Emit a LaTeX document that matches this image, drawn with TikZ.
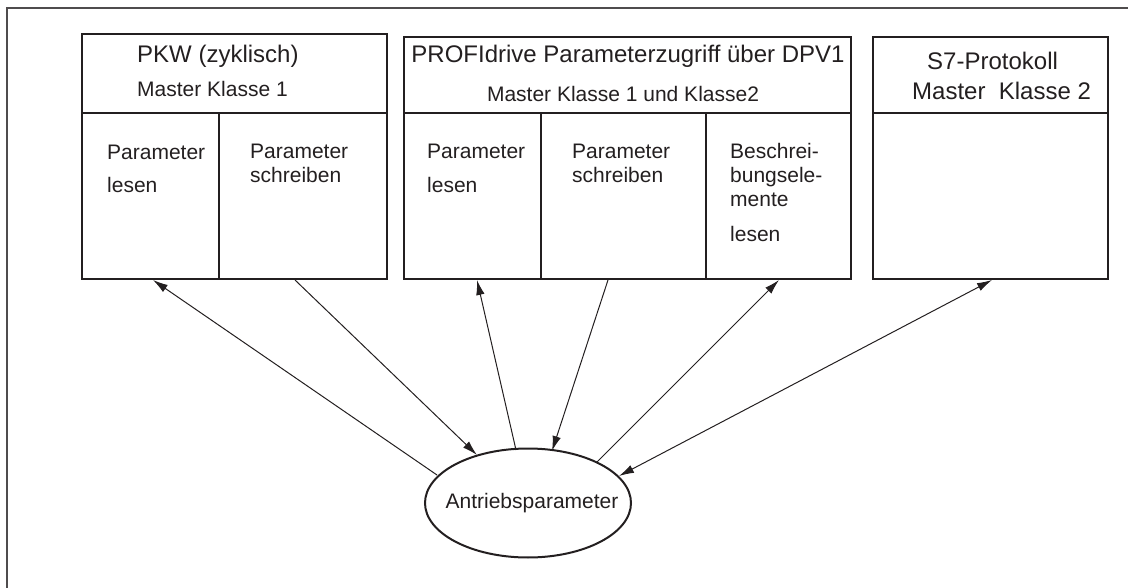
\documentclass[tikz,border=0pt]{standalone}
\usepackage{fontspec}
\setmainfont{Liberation Sans}
\usetikzlibrary{arrows.meta,shapes.geometric}
\definecolor{ink}{HTML}{231F20}
\begin{document}
\begin{tikzpicture}[x=1pt,y=-1pt,
  cell/.style={draw=ink,line width=2pt,anchor=north west,inner sep=0pt,outer sep=0pt},
  big/.style={font=\fontsize{24}{28}\selectfont,text=ink,inner sep=0pt,anchor=base west},
  small/.style={font=\fontsize{21}{25}\selectfont,text=ink,inner sep=0pt,anchor=base west},
  conn/.style={draw=ink,line width=1pt},
  tip/.style={-{Latex[length=15pt,width=8.5pt]}},
  both/.style={{Latex[length=15pt,width=8.5pt]}-{Latex[length=15pt,width=8.5pt]}}]
\useasboundingbox (0,0) rectangle (1128,588);
% frame
\draw[draw=ink!80,line width=1.5pt] (7,588) -- (7,8) -- (1128,8);
% box 1
\node[cell,minimum width=305pt,minimum height=79pt] (h1) at (82,34) {};
\node[cell,minimum width=137pt,minimum height=166pt] (b1a) at (82,113) {};
\node[cell,minimum width=168pt,minimum height=166pt] (b1b) at (219,113) {};
% box 2
\node[cell,minimum width=447pt,minimum height=76pt] (h2) at (404,37) {};
\node[cell,minimum width=137pt,minimum height=166pt] (b2a) at (404,113) {};
\node[cell,minimum width=165pt,minimum height=166pt] (b2b) at (541,113) {};
\node[cell,minimum width=145pt,minimum height=166pt] (b2c) at (706,113) {};
% box 3
\node[cell,minimum width=235pt,minimum height=76pt] (h3) at (873,37) {};
\node[cell,minimum width=235pt,minimum height=166pt] (b3) at (873,113) {};
% texts box 1
\node[big] (t1) at (137,63) {PKW (zyklisch)};
\node[small] (t2) at (137,97) {Master Klasse 1};
\node[small] (t3) at (107,160) {Parameter};
\node[small] (t4) at (107,193) {lesen};
\node[small] (t5) at (250,159) {Parameter};
\node[small] (t6) at (250,183) {schreiben};
% texts box 2
\node[big,anchor=base] (t7) at (628,63) {PROFIdrive Parameterzugriff über DPV1};
\node[small,anchor=base] (t8) at (623,102) {Master Klasse 1 und Klasse2};
\node[small] (t9) at (427,159) {Parameter};
\node[small] (t10) at (427,193) {lesen};
\node[small] (t11) at (572,159) {Parameter};
\node[small] (t12) at (572,183) {schreiben};
\node[small] (t13) at (730,159) {Beschrei-};
\node[small] (t14) at (730,183) {bungsele-};
\node[small] (t15) at (730,207) {mente};
\node[small] (t16) at (730,242) {lesen};
% texts box 3
\node[big] (t17) at (927,70) {S7-Protokoll};
\node[big] (t18) at (912,100) {Master\ \ Klasse 2};
% ellipse
\node[ellipse,draw=ink,line width=2pt,minimum width=206pt,minimum height=109pt,inner sep=0pt] (ell) at (528,503) {};
\node[small,anchor=base] (t19) at (532,508) {Antriebsparameter};
% connector end points
\coordinate (e1) at (437,475);
\coordinate (e2) at (477,455);
\coordinate (e3) at (516,450);
\coordinate (e4) at (552,451);
\coordinate (e5) at (597,462);
\coordinate (e6) at (619,476);
\coordinate (p1) at (153,280);
\coordinate (p2) at (295,280);
\coordinate (p3) at (477,280);
\coordinate (p4) at (608,280);
\coordinate (p5) at (779,280);
\coordinate (p6) at (992,280);
\draw[conn,tip] (e1) -- (p1);
\draw[conn,tip] (p2) -- (e2);
\draw[conn,tip] (e3) -- (p3);
\draw[conn,tip] (p4) -- (e4);
\draw[conn,tip] (e5) -- (p5);
\draw[conn,both] (p6) -- (e6);
\end{tikzpicture}
\end{document}
